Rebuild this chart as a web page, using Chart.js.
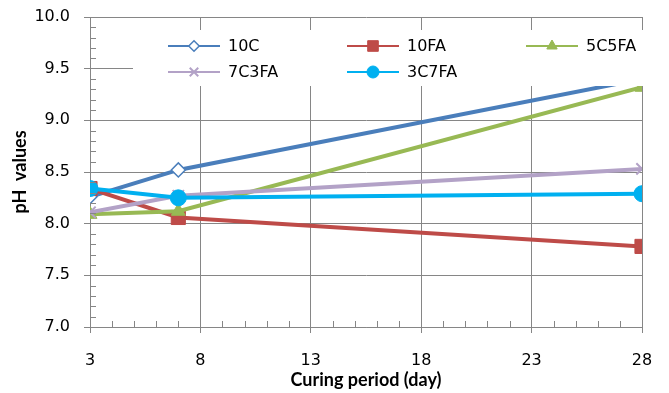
<!DOCTYPE html>
<html>
<head>
<meta charset="utf-8">
<script src="https://cdn.jsdelivr.net/npm/chart.js@4"></script>
<style>
  html, body { margin: 0; padding: 0; background: #fff; }
</style>
</head>
<body>
<canvas id="phChart" width="669" height="393"></canvas>
<script>
// Curing days and pH readings per mix
const days = [3, 7, 28];
const seriesNames = ['10C', '10FA', '5C5FA', '7C3FA', '3C7FA'];
const ph10C = [8.26, 8.52, 9.40];
const ph10FA = [8.34, 8.06, 7.78];
const ph5C5FA = [8.09, 8.12, 9.32];
const ph7C3FA = [8.11, 8.27, 8.53];
const ph3C7FA = [8.34, 8.25, 8.29];
const xTicks = [3, 8, 13, 18, 23, 28];
const yTicks = [7.0, 7.5, 8.0, 8.5, 9.0, 9.5, 10.0];

const gridColor = '#868686';
const tickFont = { family: 'DejaVu Sans', size: 16 };
const titleFont = { family: 'Lato', size: 18, weight: 'bold' };

function toPoints(values) {
    return days.map((d, i) => ({ x: d, y: values[i] }));
}

const seriesValues = [ph10C, ph10FA, ph5C5FA, ph7C3FA, ph3C7FA];
const colors = ['#4a7ebb', '#be4b48', '#98b954', '#b3a2c7', '#00b0f0'];
const styles = ['rectRot', 'rect', 'triangle', 'crossRot', 'circle'];
const radii = [7, 10, 8, 8, 8];

const datasets = seriesNames.map((name, i) => ({
    label: name,
    data: toPoints(seriesValues[i]),
    borderColor: colors[i],
    backgroundColor: colors[i],
    pointStyle: styles[i],
    pointRadius: radii[i],
    pointBackgroundColor: i === 0 ? '#fff' : colors[i],
    pointBorderColor: colors[i],
    pointBorderWidth: i === 0 ? 1.5 : (i === 3 ? 2 : 1),
    borderWidth: 4,
    tension: 0,
    order: seriesNames.length - i
}));

// Small inside tick marks on both axes
const minorTicks = {
    id: 'minorTicks',
    afterDraw(chart) {
        const { ctx, chartArea, scales } = chart;
        ctx.save();
        ctx.fillStyle = gridColor;
        for (let k = 71; k < 100; k++) {
            if (k % 5 === 0) continue;
            const y = Math.round(scales.y.getPixelForValue(k / 10));
            ctx.fillRect(Math.round(chartArea.left), y, 6, 1);
        }
        for (let d = 4; d < 28; d++) {
            if ((d - 3) % 5 === 0) continue;
            const x = Math.round(scales.x.getPixelForValue(d));
            ctx.fillRect(x, Math.round(chartArea.bottom) - 6, 1, 6);
        }
        ctx.restore();
    }
};

// Legend box laid out in a 3-column grid inside the plot
const boxLegend = {
    id: 'boxLegend',
    afterDatasetsDraw(chart) {
        const ctx = chart.ctx;
        ctx.save();
        ctx.fillStyle = '#fff';
        ctx.fillRect(133, 30, 513, 56);
        ctx.font = '16px "DejaVu Sans"';
        ctx.textBaseline = 'middle';
        chart.data.datasets.forEach((ds, i) => {
            const x = 168 + (i % 3) * 179;
            const y = 46 + Math.floor(i / 3) * 26;
            ctx.strokeStyle = ds.borderColor;
            ctx.lineWidth = 2;
            ctx.beginPath();
            ctx.moveTo(x, y);
            ctx.lineTo(x + 52, y);
            ctx.stroke();
            ctx.fillStyle = ds.pointBackgroundColor;
            ctx.strokeStyle = ds.pointBorderColor;
            ctx.lineWidth = ds.pointBorderWidth;
            Chart.helpers.drawPoint(ctx, {
                pointStyle: ds.pointStyle,
                radius: ds.pointRadius * 0.75,
                borderWidth: ds.pointBorderWidth,
                rotation: 0
            }, x + 26, y);
            ctx.fillStyle = '#000';
            ctx.fillText(ds.label, x + 60, y + 1);
        });
        ctx.restore();
    }
};

new Chart(document.getElementById('phChart'), {
    type: 'line',
    data: { datasets: datasets },
    plugins: [minorTicks, boxLegend],
    options: {
        responsive: false,
        animation: false,
        devicePixelRatio: 1,
        layout: { padding: { top: 17, right: 27, left: 0, bottom: 0 } },
        plugins: {
            legend: { display: false },
            tooltip: { enabled: false }
        },
        scales: {
            x: {
                type: 'linear',
                min: 3,
                max: 28,
                afterBuildTicks: scale => { scale.ticks = xTicks.map(v => ({ value: v })); },
                afterFit: scale => { scale.height = 66; scale.paddingLeft = 0; scale.paddingRight = 0; },
                grid: { color: gridColor, tickLength: 6 },
                border: { color: gridColor },
                ticks: { font: tickFont, color: '#000', padding: 18, maxRotation: 0 },
                title: { display: true, text: 'Curing period (day)', font: titleFont, color: '#000', padding: { top: 0, bottom: 2 } }
            },
            y: {
                min: 7,
                max: 10,
                afterBuildTicks: scale => { scale.ticks = yTicks.map(v => ({ value: v })); },
                afterFit: scale => { scale.width = 90; scale.paddingTop = 0; scale.paddingBottom = 0; },
                grid: { color: gridColor, tickLength: 6 },
                border: { color: gridColor },
                ticks: { font: tickFont, color: '#000', padding: 14, callback: v => Number(v).toFixed(1) },
                title: { display: true, text: 'pH  values', font: titleFont, color: '#000', padding: { top: 9, bottom: 0 } }
            }
        }
    }
});
</script>
</body>
</html>
